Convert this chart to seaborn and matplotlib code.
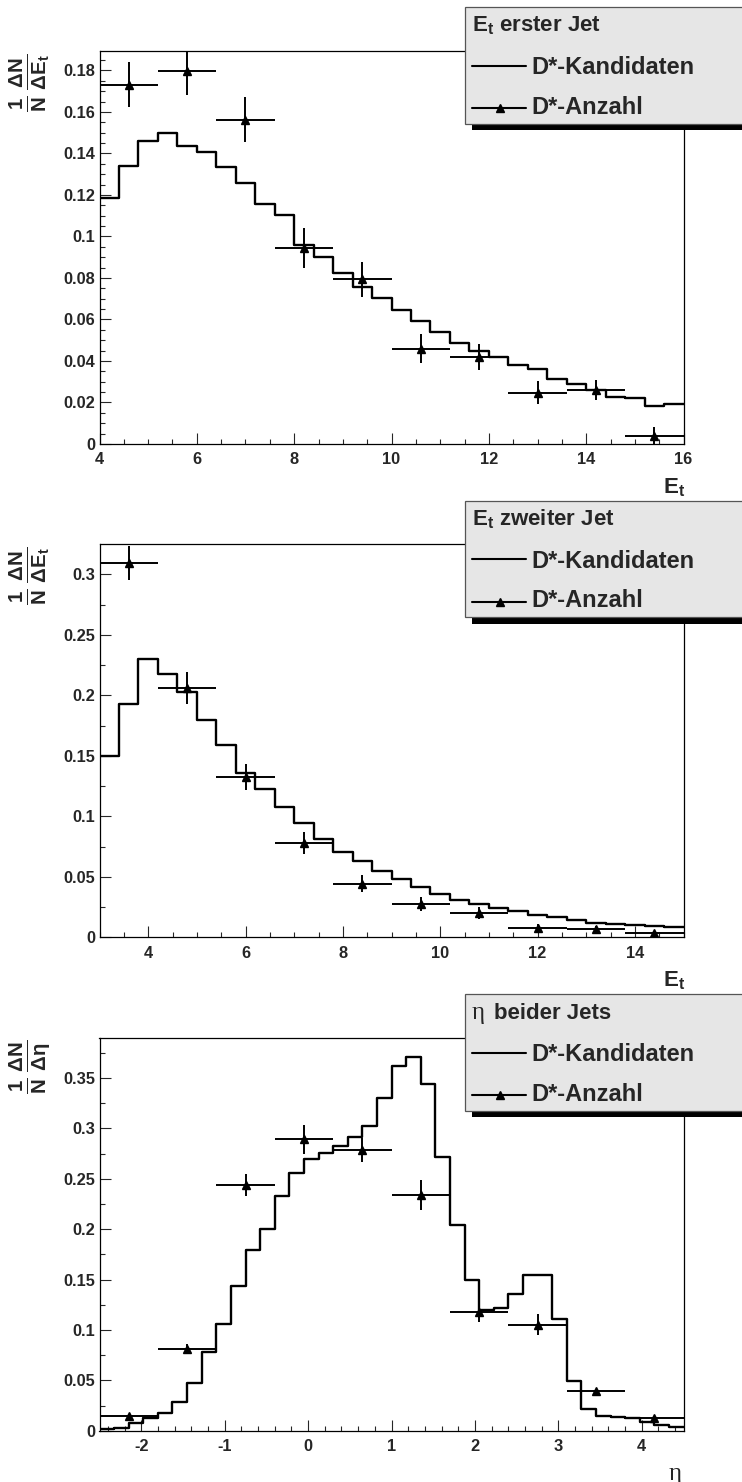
import numpy as np
import pandas as pd
import matplotlib
matplotlib.use("Agg")
import matplotlib.pyplot as plt
import seaborn as sns
from matplotlib.patches import Rectangle
from matplotlib.lines import Line2D
from matplotlib.ticker import MultipleLocator, FuncFormatter

# ---------------- data ----------------
# Panel 1: E_t of first jet
et1_range = (4.0, 16.0)
et1_nbins = 30
et1_hist = [0.1185, 0.134, 0.1458, 0.1498, 0.1436, 0.1407, 0.1335, 0.1256, 0.1155, 0.1104,
            0.0959, 0.0901, 0.0826, 0.0755, 0.0704, 0.0645, 0.0595, 0.054, 0.0488, 0.0449,
            0.042, 0.0382, 0.0361, 0.0314, 0.0287, 0.026, 0.0228, 0.0223, 0.0184, 0.0194]
et1_pts_x = [4.6, 5.8, 7.0, 8.2, 9.4, 10.6, 11.8, 13.0, 14.2, 15.4]
et1_pts_y = [0.1732, 0.1798, 0.1563, 0.0945, 0.0793, 0.046, 0.0419, 0.0247, 0.026, 0.004]
et1_pts_err = [0.011, 0.0115, 0.011, 0.0095, 0.0083, 0.007, 0.0063, 0.0055, 0.005, 0.004]
et1_pts_halfwidth = 0.6

# Panel 2: E_t of second jet
et2_range = (3.0, 15.0)
et2_nbins = 30
et2_hist = [0.1498, 0.1925, 0.2303, 0.2179, 0.203, 0.1799, 0.1592, 0.136, 0.1226, 0.108,
            0.0945, 0.0812, 0.0708, 0.0631, 0.0548, 0.0482, 0.0419, 0.036, 0.0308, 0.0275,
            0.024, 0.022, 0.0182, 0.0168, 0.0146, 0.0121, 0.011, 0.0102, 0.0093, 0.0083]
et2_pts_x = [3.6, 4.8, 6.0, 7.2, 8.4, 9.6, 10.8, 12.0, 13.2, 14.4]
et2_pts_y = [0.309, 0.206, 0.1325, 0.0777, 0.0443, 0.0275, 0.0201, 0.0077, 0.0068, 0.0033]
et2_pts_err = [0.014, 0.013, 0.0107, 0.009, 0.007, 0.0058, 0.0047, 0.003, 0.0028, 0.002]
et2_pts_halfwidth = 0.6

# Panel 3: eta of both jets
eta_range = (-2.5, 4.5)
eta_nbins = 40
eta_hist = [0.0013, 0.003, 0.0073, 0.013, 0.0176, 0.0288, 0.0477, 0.0784, 0.1062, 0.1436,
            0.179, 0.2, 0.233, 0.256, 0.2692, 0.276, 0.282, 0.2914, 0.3026, 0.3297,
            0.3621, 0.3707, 0.3436, 0.2718, 0.2044, 0.1492, 0.1194, 0.122, 0.1356, 0.1548,
            0.1548, 0.1105, 0.0496, 0.0215, 0.0146, 0.0133, 0.0123, 0.0086, 0.006, 0.0034]
eta_pts_x = [-2.15, -1.45, -0.75, -0.05, 0.65, 1.35, 2.05, 2.75, 3.45, 4.15]
eta_pts_y = [0.0146, 0.0807, 0.2437, 0.289, 0.2785, 0.2335, 0.118, 0.1052, 0.0397, 0.0123]
eta_pts_err = [0.002, 0.005, 0.011, 0.014, 0.012, 0.015, 0.01, 0.0103, 0.002, 0.002]
eta_pts_halfwidth = 0.35

legend_labels = ["D*-Kandidaten", "D*-Anzahl"]

# ---------------- style ----------------
sns.set_style("ticks")
FAM = ["Liberation Sans", "DejaVu Sans"]
plt.rcParams["font.family"] = FAM
plt.rcParams["font.weight"] = "bold"
plt.rcParams["axes.unicode_minus"] = False
plt.rcParams["mathtext.fontset"] = "custom"
plt.rcParams["mathtext.bf"] = "Liberation Sans:bold"
plt.rcParams["mathtext.rm"] = "Liberation Sans:bold"
plt.rcParams["mathtext.it"] = "Liberation Sans:bold"

W, H = 742, 1482
fig = plt.figure(figsize=(W / 100, H / 100), dpi=100)


def fx(x):
    return x / W


def fy(y):
    return 1 - y / H


panels = [
    dict(rng=et1_range, nb=et1_nbins, hist=et1_hist, px=et1_pts_x, py=et1_pts_y,
         pe=et1_pts_err, hw=et1_pts_halfwidth, top=51.5, bot=444, ymax=0.1891,
         ymaj=0.02, ymin=0.005, xmaj=2, xmin=0.5,
         ylab=r"$\mathbf{\frac{1}{N}\,\frac{\Delta N}{\Delta E_t}}$",
         header=("et", "erster Jet"), leg_top=7.3, leg_bot=123.5),
    dict(rng=et2_range, nb=et2_nbins, hist=et2_hist, px=et2_pts_x, py=et2_pts_y,
         pe=et2_pts_err, hw=et2_pts_halfwidth, top=544.3, bot=937.3, ymax=0.3248,
         ymaj=0.05, ymin=0.025, xmaj=2, xmin=0.5,
         ylab=r"$\mathbf{\frac{1}{N}\,\frac{\Delta N}{\Delta E_t}}$",
         header=("et", "zweiter Jet"), leg_top=500.7, leg_bot=617.0),
    dict(rng=eta_range, nb=eta_nbins, hist=eta_hist, px=eta_pts_x, py=eta_pts_y,
         pe=eta_pts_err, hw=eta_pts_halfwidth, top=1038.3, bot=1430.7, ymax=0.3893,
         ymaj=0.05, ymin=0.025, xmaj=1, xmin=0.2,
         ylab=r"$\mathbf{\frac{1}{N}\,\frac{\Delta N}{\Delta \eta}}$",
         header=("eta", "beider Jets"), leg_top=994.3, leg_bot=1110.5),
]

fmt = FuncFormatter(lambda v, p: "%g" % round(v, 6))

LEFT, RIGHT = 99.5, 683.5
for i, P in enumerate(panels):
    ax = fig.add_axes([fx(LEFT), fy(P["bot"]), (RIGHT - LEFT) / W, (P["bot"] - P["top"]) / H])
    lo, hi = P["rng"]
    edges = np.linspace(lo, hi, P["nb"] + 1)
    centers = 0.5 * (edges[:-1] + edges[1:])
    df = pd.DataFrame({"x": centers, "w": P["hist"]})
    sns.histplot(data=df, x="x", weights="w", bins=[float(e) for e in edges],
                 element="step", fill=False, color="black", linewidth=1.7, ax=ax)
    ax.errorbar(P["px"], P["py"], xerr=P["hw"], yerr=P["pe"], fmt="^", color="black",
                markersize=5.5, elinewidth=1.4, capsize=0, zorder=5)
    ax.set_xlim(lo, hi)
    ax.set_ylim(0, P["ymax"])
    ax.set_xlabel("")
    ax.set_ylabel("")
    ax.xaxis.set_major_locator(MultipleLocator(P["xmaj"]))
    ax.xaxis.set_minor_locator(MultipleLocator(P["xmin"]))
    ax.yaxis.set_major_locator(MultipleLocator(P["ymaj"]))
    ax.yaxis.set_minor_locator(MultipleLocator(P["ymin"]))
    ax.xaxis.set_major_formatter(fmt)
    ax.yaxis.set_major_formatter(fmt)
    ax.tick_params(which="major", direction="in", length=7.7, width=0.8, labelsize=11.8,
                   top=False, right=False)
    ax.tick_params(which="minor", direction="in", length=3.6, width=0.8, top=False, right=False)
    ax.tick_params(axis="x", which="major", pad=6)
    ax.tick_params(axis="y", which="major", pad=3)
    for lab in ax.get_xticklabels() + ax.get_yticklabels():
        lab.set_fontweight("bold")
    for s in ax.spines.values():
        s.set_visible(True)
        s.set_linewidth(0.9)
        s.set_color("black")

    # y label (rotated fraction)
    fig.text(fx(29.5), fy(P["top"] + 2), P["ylab"], rotation=90, ha="center", va="top",
             fontsize=21)
    # x label
    if P["header"][0] == "et":
        fig.text(fx(685), fy(P["bot"] + 32), r"$\mathbf{E_t}$", ha="right", va="top",
                 fontsize=16)
    else:
        fig.text(fx(682), fy(P["bot"] + 32), "η", ha="right", va="top", fontsize=18,
                 fontweight="normal", family=["Liberation Serif", "DejaVu Serif"])

    # legend box (ROOT style, with shadow)
    lt, lb = P["leg_top"], P["leg_bot"]
    shadow = Rectangle((fx(472), fy(lb + 6.5)), fx(800) - fx(472), fy(lt + 6) - fy(lb + 6.5),
                       transform=fig.transFigure, facecolor="black", edgecolor="none",
                       zorder=10)
    box = Rectangle((fx(465), fy(lb)), fx(800) - fx(465), fy(lt) - fy(lb),
                    transform=fig.transFigure, facecolor="#e6e6e6", edgecolor="#555555",
                    linewidth=0.9, zorder=11)
    fig.add_artist(shadow)
    fig.add_artist(box)
    d = lt - 7.3
    if P["header"][0] == "et":
        fig.text(fx(472.5), fy(d + 31.7), r"$\mathbf{E_t}$ " + P["header"][1], ha="left",
                 va="baseline", fontsize=16, fontweight="bold", zorder=12)
    else:
        fig.text(fx(472), fy(d + 31.7), "η", ha="left", va="baseline", fontsize=18,
                 fontweight="normal", family=["Liberation Serif", "DejaVu Serif"], zorder=12)
        fig.text(fx(494), fy(d + 31.7), P["header"][1], ha="left", va="baseline",
                 fontsize=16, fontweight="bold", zorder=12)
    l1 = Line2D([fx(472.3), fx(525.7)], [fy(d + 65.7), fy(d + 65.7)], transform=fig.transFigure,
                color="black", linewidth=1.5, zorder=12)
    l2 = Line2D([fx(472.3), fx(525.7)], [fy(d + 108.3), fy(d + 108.3)],
                transform=fig.transFigure, color="black", linewidth=1.5, zorder=12)
    m2 = Line2D([fx(500)], [fy(d + 108.3)], transform=fig.transFigure, color="black",
                marker="^", markersize=5.5, linestyle="none", zorder=13)
    fig.add_artist(l1)
    fig.add_artist(l2)
    fig.add_artist(m2)
    fig.text(fx(531), fy(d + 74.3), legend_labels[0], ha="left", va="baseline", fontsize=17,
             fontweight="bold", zorder=12)
    fig.text(fx(531), fy(d + 114), legend_labels[1], ha="left", va="baseline",
             fontsize=17, fontweight="bold", zorder=12)

fig.savefig("out.png", dpi=100, facecolor="white")
